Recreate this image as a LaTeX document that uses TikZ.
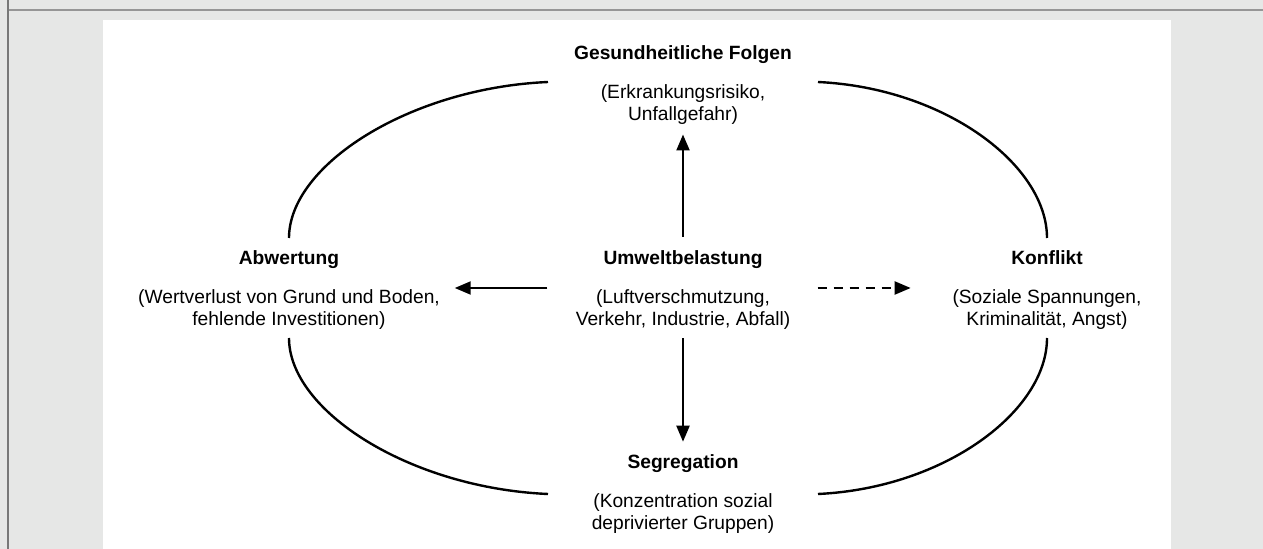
\documentclass[tikz,border=0pt]{standalone}
\usepackage{fontspec}
\setmainfont{Liberation Sans}
\usetikzlibrary{arrows.meta,positioning}
\definecolor{panelgray}{HTML}{E6E7E6}
\definecolor{rulegray}{HTML}{969696}
\begin{document}
\begin{tikzpicture}[x=0.5pt,y=-0.5pt,
		topic/.style={font=\fontsize{9.6}{10.9}\selectfont\bfseries,inner sep=0pt,anchor=base},
		detail/.style={font=\fontsize{9.6}{10.9}\selectfont,align=center,inner sep=0pt},
		ring/.style={line width=1.2pt},
		arr/.style={line width=1.1pt,-{Triangle[length=8pt,width=6.5pt]}}]
		\useasboundingbox (0,0) rectangle (1263,549);
		\fill [panelgray] (0,0) rectangle (1263,549);
		\fill [white] (103,20) rectangle (1171,549);
		\draw [rulegray,line width=1.2pt] (8,10) to (1263,10);
		\draw [rulegray!80!black,line width=1.2pt] (8,0) to (8,549);
		\coordinate (mid) at (683,288);
		\coordinate (TL) at (548,82);
		\coordinate (TR) at (818,82);
		\coordinate (BL) at (548,494);
		\coordinate (BR) at (818,494);
		\coordinate (LU) at (289,238);
		\coordinate (LD) at (289,338);
		\coordinate (RU) at (1047,238);
		\coordinate (RD) at (1047,338);
		\draw [ring] (LU) .. controls (289,165) and (410,88) .. (TL);
		\draw [ring] (TR) .. controls (945,88) and (1047,165) .. (RU);
		\draw [ring] (RD) .. controls (1047,411) and (945,488) .. (BR);
		\draw [ring] (BL) .. controls (410,488) and (289,411) .. (LD);
		\node [topic] (gesund) at (683,60) {Gesundheitliche Folgen};
		\node [detail,below=12pt of gesund.base] (gesund-d) {(Erkrankungsrisiko,\\Unfallgefahr)};
		\node [topic] (umwelt) at (683,265) {Umweltbelastung};
		\node [detail,below=12pt of umwelt.base] (umwelt-d) {(Luftverschmutzung,\\Verkehr, Industrie, Abfall)};
		\node [topic] (abw) at (289,265) {Abwertung};
		\node [detail,below=12pt of abw.base] (abw-d) {(Wertverlust von Grund und Boden,\\fehlende Investitionen)};
		\node [topic] (konf) at (1047,265) {Konflikt};
		\node [detail,below=12pt of konf.base] (konf-d) {(Soziale Spannungen,\\Kriminalität, Angst)};
		\node [topic] (segr) at (683,469) {Segregation};
		\node [detail,below=12pt of segr.base] (segr-d) {(Konzentration sozial\\deprivierter Gruppen)};
		\draw [arr,shorten <=7pt,shorten >=5pt] (umwelt.north) to (gesund-d.south);
		\draw [arr,shorten <=4.5pt,shorten >=6.5pt] (umwelt-d.south) to (segr.north);
		\draw [arr,shorten <=14pt,shorten >=7.25pt] (umwelt-d.west |- mid) to (abw-d.east |- mid);
		\draw [arr,dash pattern=on 4.5pt off 3.5pt,shorten <=13.5pt,shorten >=20.75pt] (umwelt-d.east |- mid) to (konf-d.west |- mid);
	\end{tikzpicture}
\end{document}
